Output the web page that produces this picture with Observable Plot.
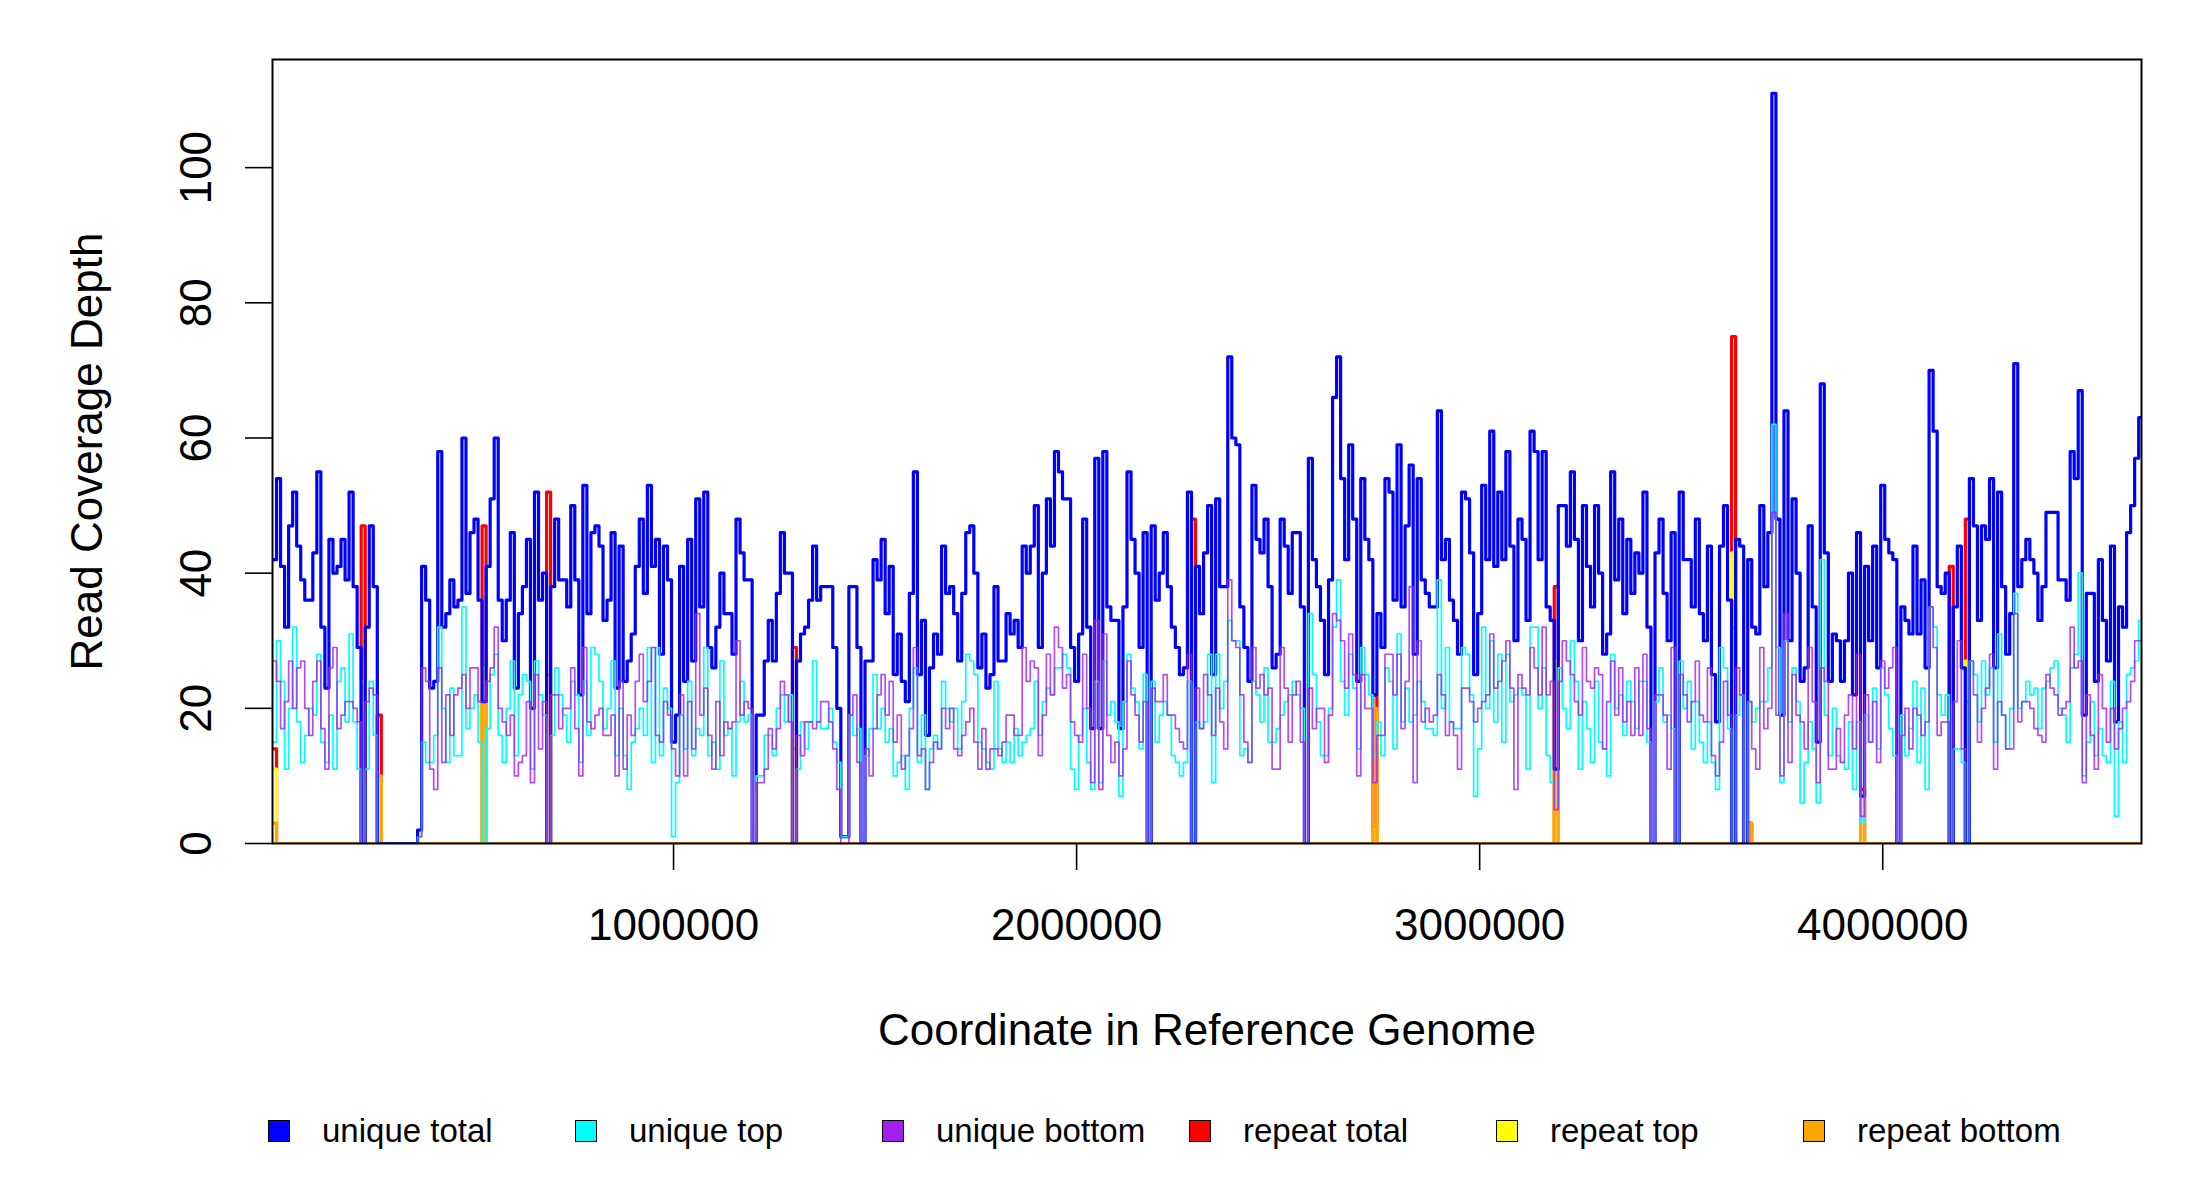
<!DOCTYPE html>
<html><head><meta charset="utf-8">
<script src="https://cdn.jsdelivr.net/npm/d3@7"></script>
<script src="https://cdn.jsdelivr.net/npm/@observablehq/plot@0.6"></script>
<style>
body{margin:0;background:#fff;font-family:"Liberation Sans",Arial,Helvetica,sans-serif;}
#wrap{width:2200px;background:#fff;}
#chart svg{display:block;}
#legend{position:relative;width:2200px;height:120px;}
.item{position:absolute;top:40px;height:22px;display:flex;align-items:center;font-size:33px;white-space:nowrap;color:#000;}
.sw{box-sizing:border-box;width:22px;height:22px;border:1.5px solid #000;margin-right:32px;flex:none;}
</style></head><body>
<div id="wrap"><div id="chart"></div><div id="legend"></div></div>
<script>
// ---- data (10 kb bins) ----
const binSize = 10000;
const xStart = 5000;
const xDomain = [5000, 4642000];
const yDomain = [0, 116];
const xTicks = [1000000, 2000000, 3000000, 4000000];
const yTicks = [0, 20, 40, 60, 80, 100];
const xTitle = "Coordinate in Reference Genome";
const yTitle = "Read Coverage Depth";
const seriesNames = ["unique total", "unique top", "unique bottom", "repeat total", "repeat top", "repeat bottom"];
const seriesColors = ["#0000FF", "#00FFFF", "#A020F0", "#FF0000", "#FFFF00", "#FFA500"];

const uniqueTotal = [
42,54,41,32,47,52,44,39,36,36, 43,55,32,23,45,40,41,45,39,52, 38,29,0,32,47,38,0,0,0,0, 0,0,0,0,0,0,2,41,36,23, 24,58,32,34,39,35,36,60,
37,46, 48,36,21,41,51,60,36,30,36,46, 23,34,38,45,20,52,36,40,0,38, 48,39,39,35,50,39,22,53,34,46, 47,44,33,36,46,23,44,24,27,31, 41,48,37,53,41,45,28,44,39,15, 19,41,24,45,27,51,35,52,29,26, 32,40,34,34,28,48,43,39,
39,0, 19,19,27,33,27,37,46,40,40,0, 27,31,32,36,44,36,38,38,38,29, 20,1,1,38,38,29,0,27,27,42, 39,45,34,41,25,31,24,21,37,55, 25,33,16,26,31,28,44,37,38,34, 27,37,46,47,40,26,31,23,25,38, 27,27,34,31,33,29,44,40,
44,50, 29,40,51,44,58,55,51,51,29,24, 31,48,32,17,57,17,58,35,33,33, 17,35,55,45,40,29,46,0,47,36, 40,46,38,32,29,25,26,52,0,41, 34,43,50,25,51,38,38,72,60,59, 35,29,24,53,45,43,48,38,26,28, 48,44,37,46,46,35,0,57,
42,38, 33,25,39,66,72,54,42,59,48,24, 54,45,42,22,34,29,54,52,36,59, 35,47,56,28,54,39,37,35,35,64, 42,45,36,33,28,52,51,43,25,34, 53,42,61,41,52,42,58,44,30,48, 45,33,61,58,42,58,35,33,11,50, 50,44,55,45,30,50,41,35,
50,40, 28,31,55,39,48,34,45,37,43,40, 52,32,0,43,48,37,30,46,0,52, 42,42,35,48,34,30,44,25,18,44, 50,36,0,45,44,0,42,32,31,50, 38,46,111,48,19,64,30,51,40,24, 26,47,35,15,68,43,24,31,30,24, 30,40,22,46,7,41,30,44,
26,53, 45,43,42,0,35,33,31,44,31,39, 26,70,61,38,37,40,0,35,44,26, 0,54,47,33,47,45,54,26,52,38, 28,34,71,38,42,45,42,40,33,38, 49,49,49,39,39,36,58,54,67,19, 37,37,24,42,33,27,44,18,35,32, 46,50,57,63
];

const uniqueTop = [
15,30,24,11,20,32,18,12,16,20, 19,28,15,12,19,11,24,26,18,31, 18,11,0,11,24,16,0,0,0,0, 0,0,0,0,0,0,1,15,12,12, 16,32,20,12,23,13,13,35,
17,20, 22,15,0,17,25,28,16,12,20,27, 13,22,25,24,11,27,22,19,0,16, 26,22,19,15,24,22,12,24,16,29, 28,24,17,20,27,13,20,13,8,15, 17,20,16,29,12,29,13,23,20,1, 9,19,14,24,13,17,16,29,13,15, 11,27,16,17,10,18,24,18,
19,0, 10,10,16,16,13,20,22,18,22,0, 11,18,14,18,27,18,17,17,20,15, 12,1,1,19,16,17,0,13,17,25, 17,20,15,17,10,12,13,8,20,26, 12,19,8,14,16,14,24,20,18,20, 14,21,28,27,25,15,14,12,11,24, 14,12,15,12,17,13,15,16,
17,24, 16,21,23,22,26,26,28,26,11,8, 16,20,12,8,24,9,27,19,21,18, 7,21,28,23,21,14,25,0,24,15, 19,21,19,13,12,10,12,24,0,18, 17,18,28,9,28,20,24,33,30,30, 13,14,12,24,22,18,26,15,15,17, 19,21,22,24,22,20,0,34,
25,18, 13,13,20,32,39,24,19,28,23,14, 29,25,22,13,18,13,26,24,14,31, 18,23,18,19,24,21,17,17,16,39, 20,29,18,17,17,29,28,22,7,14, 32,20,30,18,28,15,28,21,22,23, 22,11,32,32,20,26,13,9,6,26, 20,17,30,24,11,21,17,12,
24,15, 14,10,28,20,22,16,24,21,17,24, 24,15,0,21,26,18,19,17,0,27, 20,24,14,21,15,12,18,12,8,29, 26,17,0,19,22,0,21,18,20,21, 21,26,62,29,9,30,18,26,21,6, 12,18,14,6,42,19,13,20,13,12, 11,18,8,18,3,19,15,23,
14,26, 22,17,13,0,19,13,17,24,12,23, 8,35,32,22,19,22,0,14,14,12, 0,27,25,18,27,22,26,15,31,19, 14,20,37,20,21,24,22,23,17,23, 24,26,27,20,19,15,26,28,40,10, 15,21,13,17,13,12,24,4,18,12, 25,26,27,33
];

const uniqueBottom = [
27,24,17,21,27,20,26,27,20,16, 24,27,17,11,26,29,17,19,21,21, 20,18,0,21,23,22,0,0,0,0, 0,0,0,0,0,0,1,26,24,11, 8,26,12,22,16,22,23,25,
20,26, 26,21,21,24,26,32,20,18,16,19, 10,12,13,21,9,25,14,21,0,22, 22,17,20,20,26,17,10,29,18,17, 19,20,16,16,19,10,24,11,19,16, 24,28,21,24,29,16,15,21,19,14, 10,22,10,21,14,34,19,23,16,11, 21,13,18,17,18,30,19,21,
20,0, 9,9,11,17,14,17,24,22,18,0, 16,13,18,18,17,18,21,21,18,14, 8,0,0,19,22,12,0,14,10,17, 22,25,19,24,15,19,11,13,17,29, 13,14,8,12,15,14,20,17,20,14, 13,16,18,20,15,11,17,11,14,14, 13,15,19,19,16,16,29,24,
27,26, 13,19,28,22,32,29,23,25,18,16, 15,28,20,9,33,8,31,16,12,15, 10,14,27,22,19,15,21,0,23,21, 21,25,19,19,17,15,14,28,0,23, 17,25,22,16,23,18,14,39,30,29, 22,15,12,29,23,25,22,23,11,11, 29,23,15,22,24,15,0,23,
17,20, 20,12,19,34,33,30,23,31,25,10, 25,20,20,9,16,16,28,28,22,28, 17,24,38,9,30,18,20,18,19,25, 22,16,18,16,11,23,23,21,18,20, 21,22,31,23,24,27,30,23,8,25, 23,22,29,26,22,32,22,24,5,24, 30,27,25,21,19,29,24,23,
26,25, 14,21,27,19,26,18,21,16,26,16, 28,17,0,22,22,19,11,29,0,25, 22,18,21,27,19,18,26,13,10,15, 24,19,0,26,22,0,21,14,11,29, 17,20,49,19,10,34,12,25,19,18, 14,29,21,9,26,24,11,11,17,12, 19,22,14,28,4,22,15,21,
12,27, 23,26,29,0,16,20,14,20,19,16, 18,35,29,16,18,18,0,21,30,14, 0,27,22,15,20,23,28,11,21,19, 14,14,34,18,21,21,20,17,16,15, 25,23,22,19,20,21,32,26,27,9, 22,16,11,25,20,15,20,14,17,20, 21,24,30,30
];

// repeat coverage is zero except in these bins
const repeatBins   = [0, 22, 26, 52, 68, 129, 228, 273, 318, 362, 366, 394, 416, 420];
const repeatTotal  = [14, 47, 19, 47, 52, 29, 48, 22, 38, 75, 3, 8, 41, 48];
const repeatTop    = [11, 24, 9, 26, 27, 15, 24, 2, 27, 43, 0, 1, 20, 27];
const repeatBottom = [3, 23, 10, 21, 25, 14, 24, 20, 11, 32, 3, 7, 21, 21];

// ---- table ----
const rows = uniqueTotal.map((v, i) => ({
  x: xStart + i * binSize, ut: v, utop: uniqueTop[i], ubot: uniqueBottom[i], rt: 0, rtop: 0, rbot: 0
}));
repeatBins.forEach((b, j) => { rows[b].rt = repeatTotal[j]; rows[b].rtop = repeatTop[j]; rows[b].rbot = repeatBottom[j]; });
rows.push({...rows[rows.length - 1], x: rows[rows.length - 1].x + binSize});

const font = '"Liberation Sans", Arial, Helvetica, sans-serif';
const stepLine = (key, color, w, op = 1) => Plot.line(rows, {
  x: "x", y: key, curve: "step-after", stroke: color, strokeWidth: w, strokeOpacity: op, clip: true
});

const chart = Plot.plot({
  width: 2200, height: 1080,
  marginTop: 59, marginLeft: 272, marginRight: 59, marginBottom: 237,
  style: {fontFamily: font, background: "#fff", color: "#000"},
  x: {domain: xDomain, label: null},
  y: {domain: yDomain, label: null},
  marks: [
    stepLine("rt", seriesColors[3], 3.2),
    stepLine("rtop", seriesColors[4], 3.2),
    stepLine("rbot", seriesColors[5], 3.2),
    stepLine("ut", seriesColors[0], 3.2),
    stepLine("utop", seriesColors[1], 1.7),
    stepLine("ubot", seriesColors[2], 1.7, 0.8),
    Plot.frame({stroke: "#000", strokeWidth: 2}),
    Plot.axisX({ticks: xTicks, tickFormat: d => String(d), tickSize: 27, tickPadding: 38, fontSize: 44, strokeWidth: 1.6, label: null}),
    Plot.axisY({ticks: yTicks, tickSize: 27, tickRotate: -90, tickPadding: 35, fontSize: 44, strokeWidth: 1.6, label: null}),
    Plot.text([xTitle], {frameAnchor: "bottom", dy: 201, fontSize: 44, fill: "#000", textAnchor: "middle"}),
    Plot.text([yTitle], {frameAnchor: "left", dx: -185, rotate: -90, fontSize: 44, fill: "#000", textAnchor: "middle"})
  ]
});
document.getElementById("chart").appendChild(chart);

const legend = document.getElementById("legend");
seriesNames.forEach((name, k) => {
  const it = document.createElement("div");
  it.className = "item";
  it.style.left = (268 + 307 * k) + "px";
  const sw = document.createElement("div");
  sw.className = "sw";
  sw.style.background = seriesColors[k];
  const tx = document.createElement("span");
  tx.textContent = name;
  it.appendChild(sw); it.appendChild(tx);
  legend.appendChild(it);
});
</script></body></html>
